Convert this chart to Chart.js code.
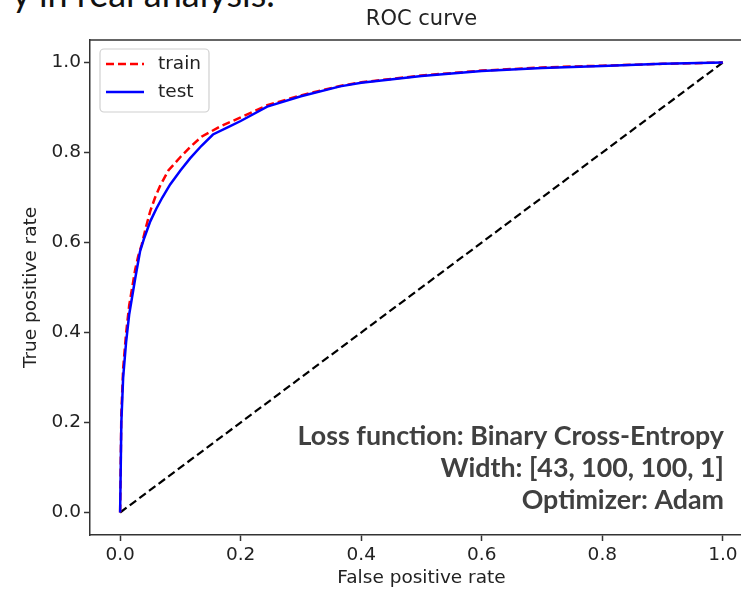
<!DOCTYPE html>
<html>
<head>
<meta charset="utf-8">
<script src="https://cdn.jsdelivr.net/npm/chart.js@4.4.1/dist/chart.umd.min.js"></script>
<style>
  html, body { margin: 0; padding: 0; background: #fff; overflow: hidden; width: 741px; height: 593px; }
  #wrap { position: absolute; left: 0; top: 0; width: 770px; height: 593px; }
  #slideText { position: absolute; left: 12px; top: -25px; font-family: Lato, "Open Sans", sans-serif; font-size: 36px; line-height: 36px; color: #111; white-space: nowrap; }
</style>
</head>
<body>
<div id="slideText">y in real analysis.</div>
<div id="wrap"><canvas id="c"></canvas></div>
<script>
// ---- data ----
const trainFpr = [0, 0.002, 0.005, 0.01, 0.015, 0.02, 0.025, 0.03, 0.036, 0.043, 0.05, 0.058, 0.066, 0.08, 0.1, 0.116, 0.135, 0.166, 0.2, 0.244, 0.3, 0.365, 0.4, 0.5, 0.6, 0.7, 0.8, 0.9, 1.0];
const trainTpr = [0, 0.22, 0.32, 0.40, 0.46, 0.50, 0.54, 0.57, 0.596, 0.635, 0.67, 0.70, 0.725, 0.76, 0.79, 0.812, 0.835, 0.858, 0.878, 0.905, 0.927, 0.948, 0.956, 0.971, 0.982, 0.989, 0.993, 0.997, 1.0];
const testFpr = [0, 0.002, 0.005, 0.01, 0.015, 0.02, 0.025, 0.033, 0.04, 0.05, 0.06, 0.07, 0.083, 0.1, 0.116, 0.135, 0.154, 0.18, 0.2, 0.244, 0.3, 0.365, 0.4, 0.5, 0.6, 0.7, 0.8, 0.9, 1.0];
const testTpr = [0, 0.20, 0.30, 0.38, 0.44, 0.48, 0.52, 0.58, 0.61, 0.647, 0.675, 0.70, 0.729, 0.76, 0.787, 0.815, 0.84, 0.857, 0.87, 0.902, 0.925, 0.947, 0.955, 0.97, 0.981, 0.988, 0.992, 0.997, 1.0];
const chanceFpr = [0, 1];
const chanceTpr = [0, 1];
const xTicks = [0, 0.2, 0.4, 0.6, 0.8, 1.0];
const yTicks = [0, 0.2, 0.4, 0.6, 0.8, 1.0];
const seriesLabels = ['train', 'test'];
const chartTitle = 'ROC curve';
const xTitle = 'False positive rate';
const yTitle = 'True positive rate';
const annotationLines = ['Loss function: Binary Cross-Entropy', 'Width: [43, 100, 100, 1]', 'Optimizer: Adam'];

const toPts = (xs, ys) => xs.map((x, i) => ({x: x, y: ys[i]}));
const MPL = '"DejaVu Sans", sans-serif';
const FS = 18.5;

const framePlugin = {
  id: 'frame',
  afterDatasetsDraw(chart) {
    const {ctx, chartArea: a} = chart;
    ctx.save();
    ctx.strokeStyle = '#333';
    ctx.lineWidth = 1.5;
    ctx.beginPath();
    ctx.moveTo(a.left, a.top); ctx.lineTo(a.right, a.top);
    ctx.moveTo(a.right, a.top); ctx.lineTo(a.right, a.bottom);
    ctx.stroke();
    ctx.restore();
  }
};

const titlePlugin = {
  id: 'axTitle',
  afterDraw(chart) {
    const {ctx, chartArea: a} = chart;
    ctx.save();
    ctx.font = '21px ' + MPL;
    ctx.fillStyle = '#222';
    ctx.textAlign = 'center';
    ctx.textBaseline = 'middle';
    ctx.fillText(chartTitle, (a.left + a.right) / 2, a.top - 20);
    ctx.restore();
  }
};

const legendPlugin = {
  id: 'innerLegend',
  afterDraw(chart) {
    const {ctx, chartArea: a} = chart;
    const items = chart.data.datasets.filter(d => seriesLabels.includes(d.label))
      .sort((p, q) => seriesLabels.indexOf(p.label) - seriesLabels.indexOf(q.label));
    const bx = a.left + 10, by = a.top + 9, bw = 109, bh = 63;
    ctx.save();
    ctx.fillStyle = 'rgba(255,255,255,0.8)';
    ctx.strokeStyle = '#d0d0d0';
    ctx.lineWidth = 1.2;
    ctx.beginPath();
    ctx.roundRect(bx, by, bw, bh, 4);
    ctx.fill(); ctx.stroke();
    ctx.font = FS + 'px ' + MPL;
    ctx.textBaseline = 'middle';
    ctx.textAlign = 'left';
    items.forEach((d, i) => {
      const y = by + 15 + i * 28;
      ctx.strokeStyle = d.borderColor;
      ctx.lineWidth = d.borderWidth;
      ctx.setLineDash(d.borderDash || []);
      ctx.beginPath();
      ctx.moveTo(bx + 6, y); ctx.lineTo(bx + 44, y);
      ctx.stroke();
      ctx.setLineDash([]);
      ctx.fillStyle = '#222';
      ctx.fillText(d.label, bx + 58, y);
    });
    ctx.restore();
  }
};

const notePlugin = {
  id: 'note',
  afterDraw(chart) {
    const {ctx} = chart;
    ctx.save();
    ctx.font = 'bold 26.8px Lato, "Open Sans", sans-serif';
    ctx.fillStyle = '#404040';
    ctx.textAlign = 'right';
    ctx.textBaseline = 'middle';
    annotationLines.forEach((t, i) => ctx.fillText(t, 724, 436 + i * 32));
    ctx.restore();
  }
};

new Chart(document.getElementById('c'), {
  type: 'line',
  data: {
    datasets: [
      { label: seriesLabels[0], data: toPts(trainFpr, trainTpr), borderColor: '#ff0000', borderWidth: 2.5, borderDash: [8, 4], pointRadius: 0, fill: false, tension: 0, order: 1 },
      { label: seriesLabels[1], data: toPts(testFpr, testTpr), borderColor: '#0000ff', borderWidth: 2.5, pointRadius: 0, fill: false, tension: 0, order: 0 },
      { label: 'chance', data: toPts(chanceFpr, chanceTpr), borderColor: '#000000', borderWidth: 2.2, borderDash: [8, 4], pointRadius: 0, fill: false, tension: 0, order: 2 }
    ]
  },
  options: {
    responsive: true,
    maintainAspectRatio: false,
    animation: false,
    events: [],
    layout: { padding: { left: 0, right: 17, top: 40, bottom: 0 } },
    plugins: {
      legend: { display: false },
      tooltip: { enabled: false },
      title: { display: false }
    },
    scales: {
      x: {
        type: 'linear', min: -0.05, max: 1.05,
        afterBuildTicks: s => { s.ticks = xTicks.map(v => ({value: v})); },
        afterFit: s => { s.height = 58; },
        ticks: { callback: v => Number(v).toFixed(1), color: '#222', font: { family: MPL, size: FS }, padding: 3, maxRotation: 0, autoSkip: false },
        grid: { display: true, drawOnChartArea: false, drawTicks: true, tickLength: 6, tickWidth: 1.5, tickColor: '#333' },
        border: { display: true, color: '#333', width: 1.5 },
        title: { display: true, text: xTitle, color: '#222', font: { family: MPL, size: FS }, padding: { top: 0, bottom: 4 } }
      },
      y: {
        type: 'linear', min: -0.05, max: 1.05,
        afterBuildTicks: s => { s.ticks = yTicks.map(v => ({value: v})); },
        afterFit: s => { s.width = 90; },
        ticks: { callback: v => Number(v).toFixed(1), color: '#222', font: { family: MPL, size: FS }, padding: 3, autoSkip: false },
        grid: { display: true, drawOnChartArea: false, drawTicks: true, tickLength: 6, tickWidth: 1.5, tickColor: '#333' },
        border: { display: true, color: '#333', width: 1.5 },
        title: { display: true, text: yTitle, color: '#222', font: { family: MPL, size: FS }, padding: { top: 20, bottom: 0 } }
      }
    }
  },
  plugins: [framePlugin, titlePlugin, legendPlugin, notePlugin]
});
</script>
</body>
</html>
